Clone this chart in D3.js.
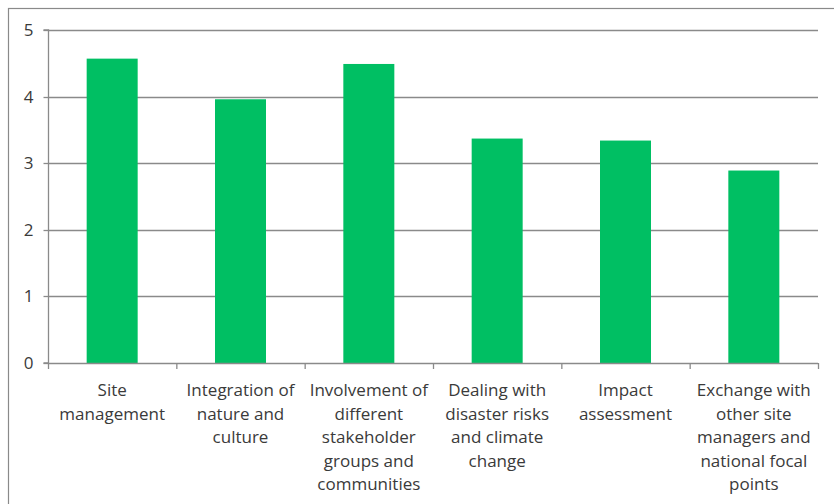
<!DOCTYPE html>
<html>
<head>
<meta charset="utf-8">
<script src="https://cdn.jsdelivr.net/npm/d3@7"></script>
<style>
  html, body { margin: 0; padding: 0; background: #fff; }
  svg { display: block; }
  text { font-family: "Open Sans", "Noto Sans", sans-serif; fill: #3a3a3a; }
</style>
</head>
<body>
<svg id="chart" width="834" height="504"></svg>
<script>
const categories = [
  "Site management",
  "Integration of nature and culture",
  "Involvement of different stakeholder groups and communities",
  "Dealing with disaster risks and climate change",
  "Impact assessment",
  "Exchange with other site managers and national focal points"
];
const categoryLines = [
  ["Site", "management"],
  ["Integration of", "nature and", "culture"],
  ["Involvement of", "different", "stakeholder", "groups and", "communities"],
  ["Dealing with", "disaster risks", "and climate", "change"],
  ["Impact", "assessment"],
  ["Exchange with", "other site", "managers and", "national focal", "points"]
];
const values = [4.57, 3.96, 4.49, 3.37, 3.34, 2.89];
const yTicks = [0, 1, 2, 3, 4, 5];

const svg = d3.select("#chart");
const mLeft = 48, mRight = 818, mTop = 30, mBottom = 363;

// outer chart border
svg.append("rect")
  .attr("x", 8.5).attr("y", 8.5)
  .attr("width", 840).attr("height", 520)
  .attr("fill", "none").attr("stroke", "#8a8a8a").attr("stroke-width", 1.2);

const xb = d3.scaleBand().domain(categories).range([mLeft, mRight]).padding(0);
const y = d3.scaleLinear().domain([0, 5]).range([mBottom, mTop]);

// gridlines
svg.append("g").selectAll("line").data(yTicks.filter(d => d > 0)).join("line")
  .attr("x1", mLeft).attr("x2", mRight)
  .attr("y1", d => Math.round(y(d)) + 0.5).attr("y2", d => Math.round(y(d)) + 0.5)
  .attr("stroke", "#8a8a8a").attr("stroke-width", 1.3);

// bars
svg.append("g").selectAll("rect").data(values).join("rect")
  .attr("x", (d, i) => xb(categories[i]) + xb.bandwidth() / 2 - 25.5)
  .attr("width", 51)
  .attr("y", d => y(d))
  .attr("height", d => y(0) - y(d))
  .attr("fill", "#00bf63");

// y axis
const yAxis = d3.axisLeft(y).tickValues(yTicks).tickSize(5).tickPadding(10).tickFormat(d3.format("d"));
const gy = svg.append("g").attr("transform", `translate(${mLeft + 0.5},0)`).call(yAxis);
gy.select(".domain").attr("stroke", "#8a8a8a").attr("stroke-width", 1.3).attr("d", `M-5,${mBottom}H0V${mTop}H-5`);
gy.selectAll(".tick line").attr("stroke", "#8a8a8a").attr("stroke-width", 1.3);
gy.selectAll(".tick text").style("font-size", "17px").attr("fill", "#3a3a3a").attr("dy", "0.3em");
gy.selectAll(".tick").attr("transform", d => `translate(0,${Math.round(y(d)) + 0.5})`);

// x axis line and ticks at band boundaries
const gx = svg.append("g");
gx.append("line").attr("x1", mLeft).attr("x2", mRight)
  .attr("y1", mBottom + 0.5).attr("y2", mBottom + 0.5)
  .attr("stroke", "#8a8a8a").attr("stroke-width", 1.3);
const boundaries = categories.map(c => xb(c)).concat([mRight]);
gx.selectAll("line.tk").data(boundaries).join("line").attr("class", "tk")
  .attr("x1", d => d + 0.5).attr("x2", d => d + 0.5)
  .attr("y1", mBottom).attr("y2", mBottom + 6)
  .attr("stroke", "#8a8a8a").attr("stroke-width", 1.3);

// category labels
const lab = svg.append("g").selectAll("text").data(categoryLines).join("text")
  .attr("text-anchor", "middle")
  .style("font-size", "17px")
  .attr("transform", (d, i) => `translate(${xb(categories[i]) + xb.bandwidth() / 2},396)`);
lab.selectAll("tspan").data(d => d).join("tspan")
  .attr("x", 0).attr("y", (d, j) => j * 23.5)
  .text(d => d);
</script>
</body>
</html>
